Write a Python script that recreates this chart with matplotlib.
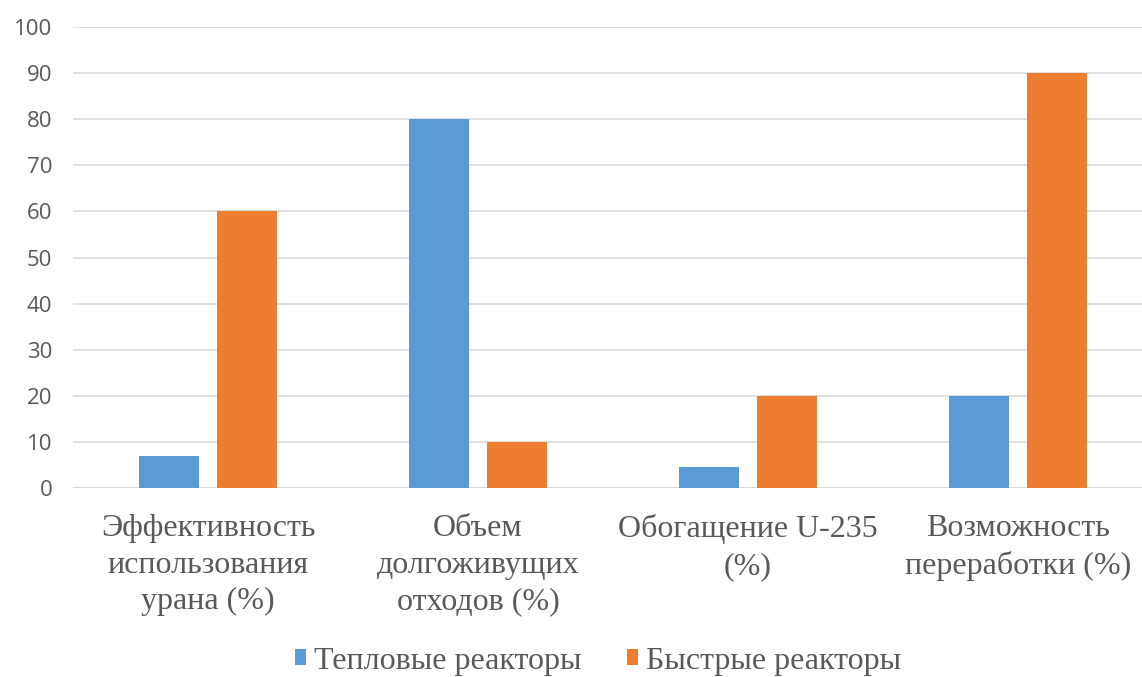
import matplotlib
matplotlib.use("Agg")
import matplotlib.pyplot as plt
import numpy as np

serif_fonts = ["Liberation Serif", "DejaVu Serif"]

categories = [
    "Эффективность\nиспользования\nурана (%)",
    "Объем\nдолгоживущих\nотходов (%)",
    "Обогащение U-235\n(%)",
    "Возможность\nпереработки (%)",
]
thermal = [7, 80, 4.5, 20]
fast = [60, 10, 20, 90]
series_names = ["Тепловые реакторы", "Быстрые реакторы"]
y_ticks = list(range(0, 101, 10))

blue = "#5B9BD5"
orange = "#ED7D31"
text_gray = "#595959"
grid_gray = "#D9D9D9"

fig = plt.figure(figsize=(11.42, 6.77), dpi=100)
ax = fig.add_axes([73 / 1142, 189 / 677, 1080 / 1142, 461 / 677])

x = np.arange(len(categories))
w = 0.222
off = 0.143
ax.bar(x - off, thermal, width=w, color=blue, label=series_names[0], zorder=3)
ax.bar(x + off, fast, width=w, color=orange, label=series_names[1], zorder=3)

ax.set_xlim(-0.5, len(categories) - 0.5)
ax.set_ylim(0, 100)
ax.set_yticks(y_ticks)
ax.yaxis.grid(True, color=grid_gray, linewidth=1.2, zorder=0)
ax.set_axisbelow(True)
for s in ax.spines.values():
    s.set_visible(False)
ax.axhline(0, color=grid_gray, linewidth=1.2, zorder=1)

ax.tick_params(axis="both", length=0)
ax.set_yticklabels([str(t) for t in y_ticks], fontsize=16,
                   family="Open Sans", color=text_gray)
ax.tick_params(axis="y", pad=15)
ax.set_xticks(x)
ax.set_xticklabels(categories, fontsize=23, family=serif_fonts,
                   color=text_gray, linespacing=1.34)
ax.tick_params(axis="x", pad=19)

leg = fig.legend(loc="center", bbox_to_anchor=(598 / 1142, 1 - 661 / 677),
                 ncol=2, frameon=False, handlelength=0.35, handleheight=0.35,
                 handletextpad=0.25, columnspacing=1.4,
                 prop={"family": serif_fonts, "size": 23})
for t in leg.get_texts():
    t.set_color(text_gray)

fig.savefig("out.png", dpi=100)
